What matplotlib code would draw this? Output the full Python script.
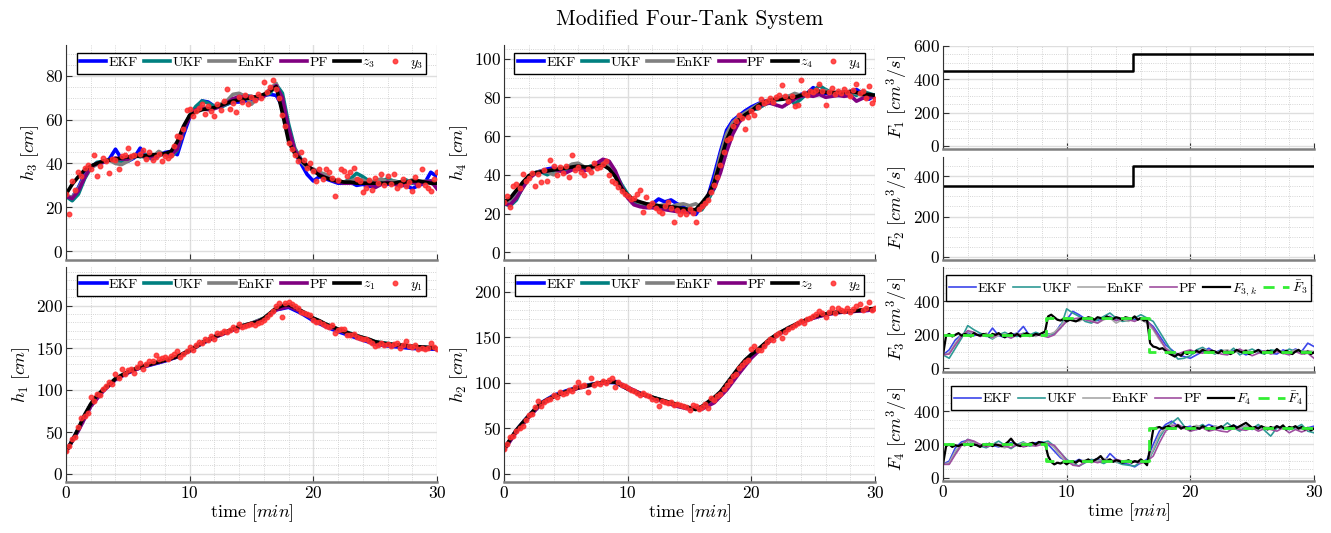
import numpy as np
import matplotlib
matplotlib.use("Agg")
import matplotlib.pyplot as plt
from matplotlib.ticker import MultipleLocator

plt.rcParams["font.family"] = "serif"
plt.rcParams["font.serif"] = ["cmr10"]
plt.rcParams["mathtext.fontset"] = "cm"
plt.rcParams["axes.formatter.use_mathtext"] = True

# time grids [min]
t_est = np.linspace(0, 30, 61)     # estimator / state samples
t_meas = np.linspace(0, 30, 121)   # measurement samples
t_coarse = np.linspace(0, 30, 31)

# ---- tank 3 ----
z3 = [26.0, 30.5, 34.0, 37.0, 38.8, 40.0, 41.0, 41.5, 42.0, 42.5,
      43.0, 43.0, 43.5, 43.5, 44.0, 44.0, 44.5, 45.5, 50.0, 57.0,
      62.0, 63.5, 64.5, 65.0, 65.5, 66.5, 67.5, 68.5, 69.0, 69.5,
      70.0, 70.5, 71.5, 73.0, 75.0, 63.0, 50.0, 44.5, 41.5, 39.0,
      37.0, 34.5, 33.5, 32.5, 32.0, 31.5, 31.5, 31.0, 31.0, 31.0,
      31.0, 31.0, 31.0, 31.0, 31.5, 31.5, 32.0, 32.0, 31.5, 31.0,
      31.0]
ekf3 = [25.0, 24.5, 29.0, 35.0, 38.5, 40.0, 40.5, 42.0, 46.5, 42.0,
        41.0, 42.5, 47.0, 43.0, 42.0, 43.5, 45.0, 45.5, 44.0, 53.0,
        61.0, 65.0, 68.5, 68.0, 66.0, 66.0, 67.0, 68.0, 68.0, 68.5,
        69.0, 70.0, 71.0, 71.5, 71.0, 66.0, 53.0, 45.0, 40.0, 35.0,
        32.0, 34.0, 33.0, 32.0, 31.0, 31.0, 31.5, 30.0, 30.5, 29.5,
        30.0, 31.0, 30.5, 31.0, 30.0, 30.0, 28.5, 30.0, 31.0, 36.0,
        34.0]
ukf3 = [25.0, 23.0, 26.0, 33.0, 38.0, 40.5, 41.0, 41.5, 41.0, 40.5,
        42.0, 44.0, 43.0, 44.0, 43.5, 44.0, 44.0, 43.0, 46.0, 55.0,
        62.0, 66.0, 68.5, 67.5, 66.0, 65.5, 67.0, 68.5, 70.0, 71.0,
        70.5, 70.0, 71.0, 72.0, 76.0, 72.0, 58.0, 47.0, 42.0, 39.0,
        36.5, 35.0, 34.0, 32.5, 32.0, 31.5, 33.0, 35.5, 34.0, 32.0,
        31.5, 32.0, 33.0, 32.0, 31.5, 32.5, 31.0, 32.0, 31.5, 32.0,
        31.0]
enkf3 = [25.5, 24.5, 28.5, 34.0, 38.0, 39.5, 41.0, 41.5, 40.0, 39.5,
         41.0, 43.0, 44.0, 42.0, 43.0, 45.5, 44.0, 43.5, 47.0, 56.0,
         61.5, 64.0, 66.0, 65.0, 65.0, 67.0, 68.5, 71.5, 72.0, 70.5,
         67.0, 70.0, 71.0, 74.0, 76.5, 68.0, 55.0, 46.5, 41.0, 38.0,
         37.5, 36.0, 35.0, 33.0, 32.0, 31.5, 32.0, 33.0, 32.5, 31.0,
         32.0, 33.0, 31.5, 32.0, 31.0, 31.5, 32.5, 31.5, 32.0, 31.0,
         30.0]
pf3 = [25.0, 24.0, 27.5, 33.5, 38.5, 40.0, 40.5, 41.5, 42.5, 42.0,
       42.0, 43.5, 44.0, 43.0, 43.0, 44.0, 44.5, 44.0, 46.5, 55.5,
       61.0, 64.5, 65.0, 64.5, 65.0, 66.0, 67.5, 69.5, 70.5, 70.0,
       70.5, 69.5, 70.5, 73.5, 75.5, 70.0, 56.0, 46.0, 41.5, 39.0,
       37.0, 35.0, 33.5, 32.5, 31.5, 31.0, 31.0, 31.5, 31.0, 30.5,
       29.0, 30.5, 31.5, 30.5, 30.0, 31.0, 31.5, 30.5, 31.5, 32.0,
       28.5]
y3 = [26, 17, 32, 28, 36, 34.5, 38, 39.5, 37.5, 44,
      34.5, 39, 42.5, 41, 35.5, 42, 41.5, 37.5, 43.5, 44,
      47, 43.5, 44, 40, 44.5, 46, 42, 45, 41.5, 43,
      44.5, 41, 43.5, 42.5, 44, 48, 52.5, 52, 55.5, 64.5,
      65, 61.5, 64, 65.5, 67, 62.5, 66, 64, 61.5, 67,
      64.5, 68.5, 74, 65, 67.5, 63.5, 70.5, 68, 71, 67,
      70.5, 69, 71.5, 70, 77, 72.5, 75, 78, 74, 70,
      62, 57, 49.5, 46.5, 44, 41, 45, 41.5, 38, 40,
      36.5, 32, 37.5, 33, 37.5, 36, 33.5, 25, 32.5, 37.5,
      36.5, 34.5, 36, 38, 33, 32, 27, 29, 32.5, 28,
      33.5, 31, 35, 30, 34.5, 30.5, 35, 29, 30, 33,
      29.5, 31.5, 27.5, 34, 30, 37.5, 30, 29, 27.5, 33,
      36]

# ---- tank 4 ----
z4 = [26.0, 28.0, 32.0, 36.0, 39.5, 41.0, 41.5, 42.0, 42.5, 43.0,
      43.5, 44.0, 44.5, 44.0, 44.0, 44.5, 45.0, 43.0, 39.0, 33.0,
      29.5, 27.0, 26.0, 25.0, 24.5, 24.0, 23.5, 23.5, 23.0, 22.5,
      22.0, 22.0, 25.5, 29.5, 36.0, 47.0, 58.0, 65.0, 68.5, 71.0,
      73.0, 75.5, 77.5, 78.5, 79.0, 79.0, 79.5, 80.0, 81.0, 82.0,
      83.0, 83.0, 82.5, 82.5, 82.5, 82.5, 83.0, 82.5, 81.5, 81.5,
      81.0]
ekf4 = [25.0, 25.5, 30.0, 35.5, 39.0, 41.0, 42.0, 43.0, 43.5, 42.5,
        43.0, 44.0, 43.5, 43.0, 44.0, 45.0, 45.5, 44.0, 39.5, 33.0,
        28.5, 26.0, 24.5, 24.0, 25.0, 27.5, 26.0, 27.0, 25.0, 23.5,
        21.0, 19.5, 24.0, 29.0, 40.0, 52.0, 63.0, 68.0, 70.5, 73.0,
        75.0, 76.5, 78.0, 78.0, 79.0, 80.0, 79.5, 80.5, 81.5, 82.0,
        85.0, 83.0, 82.0, 82.5, 81.0, 82.0, 83.0, 84.0, 82.0, 79.0,
        81.0]
ukf4 = [25.0, 24.0, 27.0, 33.5, 38.5, 41.0, 41.5, 40.0, 42.0, 43.5,
        42.0, 43.5, 44.5, 43.0, 44.5, 45.0, 46.0, 45.0, 41.0, 35.0,
        30.0, 26.5, 25.0, 24.0, 24.5, 24.0, 23.0, 23.0, 22.5, 22.5,
        22.0, 21.5, 22.0, 27.0, 33.0, 43.0, 55.0, 64.0, 68.0, 71.0,
        73.5, 74.0, 76.0, 77.5, 78.5, 79.0, 80.5, 76.5, 79.0, 82.0,
        83.0, 86.0, 84.0, 82.5, 81.0, 83.0, 82.5, 81.0, 83.0, 82.0,
        81.0]
enkf4 = [26.0, 25.5, 29.0, 34.5, 39.5, 41.0, 42.0, 41.5, 40.0, 42.5,
         43.5, 45.5, 46.0, 44.0, 43.0, 44.5, 46.0, 45.0, 40.0, 33.5,
         28.5, 27.0, 25.5, 25.0, 24.5, 24.0, 24.5, 23.5, 24.5, 25.0,
         24.0, 25.0, 23.0, 28.0, 37.0, 50.0, 61.0, 67.0, 70.0, 72.0,
         74.0, 76.0, 77.5, 78.5, 79.0, 80.0, 80.5, 82.0, 81.0, 81.5,
         82.5, 83.0, 83.5, 82.0, 81.5, 82.5, 83.0, 82.0, 81.0, 80.0,
         80.5]
pf4 = [25.0, 24.5, 28.0, 33.0, 38.0, 40.5, 41.5, 42.0, 43.0, 42.0,
       41.0, 42.5, 43.0, 42.0, 43.5, 46.0, 48.0, 47.0, 42.0, 34.0,
       28.0, 24.5, 23.5, 23.0, 23.0, 22.5, 22.0, 21.5, 21.0, 21.0,
       20.5, 21.5, 23.5, 29.5, 33.0, 41.0, 52.0, 61.0, 67.0, 70.5,
       73.0, 75.0, 76.5, 77.0, 76.0, 75.0, 77.0, 79.0, 80.5, 81.0,
       80.5, 81.5, 80.0, 80.5, 81.0, 80.5, 81.0, 78.0, 79.5, 80.0,
       80.5]
y4 = [26, 29, 23.5, 34, 35, 33, 40.5, 37, 38.5, 41,
      34, 40.5, 36.5, 42.5, 37, 47.5, 44.5, 40, 44, 41,
      44.5, 39, 50, 42.5, 44, 41.5, 40, 43, 41.5, 46,
      43.5, 44, 45.5, 47, 40, 37, 36, 33.5, 31.5, 30,
      29, 27.5, 28, 30, 32, 21, 28.5, 24, 25.5, 23,
      21.5, 20.5, 24, 26, 23, 15.5, 22, 20, 21.5, 20,
      22.5, 20.5, 15.7, 22.5, 24, 25.5, 27, 31, 34.5, 39,
      45, 51.5, 58, 59, 65, 67.5, 71, 69.5, 63.5, 70,
      73, 71, 75, 79, 77, 78, 79.5, 77.5, 80, 81,
      86.5, 80.5, 78, 80.5, 75.5, 76, 89, 82, 81, 83.5,
      82.5, 84, 87, 83, 76, 82.5, 85, 81.5, 83, 82,
      84.5, 82.5, 80.5, 84, 87, 82, 83, 79.5, 86, 77,
      79]

# ---- tank 1 ----
z1 = [26.5, 39, 54, 70, 83, 93, 100, 106, 113, 117,
      121, 124, 127, 129, 131, 133, 135, 137, 139.5, 143,
      147, 151, 156, 159.5, 163, 166, 169, 172, 175, 177,
      179, 180.5, 185, 191, 197, 200, 201, 198, 194, 190,
      185, 182, 178, 175, 172, 169, 166.5, 164, 162, 160,
      157, 155.5, 154.5, 153.5, 153, 152.5, 151.5, 151, 150.5, 150,
      149]
ekf1 = [26, 53, 82, 99, 112, 120, 126, 130, 134, 139,
        147, 155, 163, 168, 174, 178, 184, 195, 198, 191,
        182, 175, 169, 164, 159, 154, 152, 150.5, 149, 148.5,
        148]
ukf1 = [26, 52, 81, 99, 113, 121, 127, 131, 135, 139,
        146, 155, 162, 169, 175, 179, 185, 196, 200, 194,
        185, 178, 172, 167, 162, 157, 155, 153, 151.5, 150.5,
        149.5]
enkf1 = [26, 53, 82, 100, 113, 121, 127, 131, 135, 139.5,
         147, 156, 163, 169, 175, 179, 185, 197, 200, 193,
         184, 177, 171, 166, 161, 156, 154, 152.5, 151, 150,
         149]
pf1 = [26, 51, 80, 98, 112, 120, 126, 130.5, 134.5, 139,
       146, 155, 162, 168, 174, 178.5, 184, 195, 199, 193,
       184, 177, 171, 166, 161, 156, 154, 152, 151, 150,
       149]
y1 = [27, 33, 41, 44, 55, 66, 68, 72, 91, 86,
      95, 93, 101, 104, 109, 107, 118, 114, 124, 119,
      123, 124, 119.5, 127, 132, 125, 131, 134, 134, 141,
      136, 138, 139, 136, 140, 142, 146, 139, 142, 146,
      151, 147, 153, 157, 155, 160, 159, 164, 160, 167,
      167, 170, 168, 171, 174, 171, 178, 174, 176, 177,
      178, 177, 179, 181, 183, 186, 190, 194, 200, 203,
      186, 203, 204, 202, 199, 197, 192, 191, 190, 189,
      183, 180, 181, 178, 176, 175, 177, 167, 171, 172,
      172, 165, 165, 166, 163, 161, 160, 160, 158, 155,
      152, 153, 156, 153, 154, 152, 154, 155, 150, 153,
      158, 152, 151, 153, 148, 150, 148, 150, 155, 151,
      148]

# ---- tank 2 ----
z2 = [27, 38, 48, 56, 63.5, 71, 77.5, 81.5, 84.5, 87.5,
      90, 92.5, 94.5, 96, 97.5, 99, 100.5, 101, 100.5, 97,
      93, 90.5, 88, 86, 84, 82, 80, 78, 76, 74.5,
      72.5, 70.5, 74, 79, 84, 90, 99, 108, 117, 125,
      131, 136, 142, 148, 152.5, 156.5, 160, 163.5, 166.5, 169.5,
      172, 174, 175.5, 176.5, 177.5, 178, 178.5, 179, 180, 181,
      181.5]
ekf2 = [27, 48, 64, 78, 86, 91, 95, 98, 100.5, 100,
        93, 87.5, 83.5, 79, 74.5, 71.5, 73, 82, 97, 115,
        131, 141, 152, 160, 166, 171, 175, 177, 178, 179,
        180]
ukf2 = [27, 47, 63, 77, 85, 90, 94.5, 97.5, 100, 101,
        94, 88.5, 84, 80, 76, 72.5, 72.5, 80, 95, 113,
        129, 141, 151, 160, 166.5, 171.5, 175.5, 177.5, 178.5, 179.5,
        180.5]
enkf2 = [27, 48, 64, 77.5, 85, 90, 94.5, 97.5, 100.5, 101,
         94, 88, 84, 79.5, 75.5, 72, 73, 81, 96, 114,
         130, 142, 152, 160.5, 166.5, 172, 175.5, 177.5, 178.5, 179.5,
         181]
pf2 = [26, 46, 62, 76.5, 84.5, 89.5, 94, 97, 99.5, 101.5,
       95, 88.5, 83.5, 78.5, 74, 71, 71, 78, 92, 110,
       127, 140, 151, 159.5, 166, 171, 174.5, 177, 178, 179,
       180]
y2 = [27, 33, 40, 42, 47, 50, 52, 59, 64, 66,
      73, 80, 74, 79, 81, 82, 86, 84, 90, 88,
      89, 92, 91, 95, 101, 96, 97, 90, 105, 98,
      100, 99, 102, 100, 103, 105, 95, 101, 98, 96,
      94, 92, 91, 89, 86, 89, 87, 85, 82, 81,
      74, 80, 79, 78, 79, 76, 77, 75, 74, 73,
      69.5, 75, 74, 71, 73, 77, 72, 83, 81, 85,
      88, 93, 97, 102, 107, 110, 116, 119, 123, 125,
      137, 140, 136, 136, 140, 145, 148, 147, 152, 154,
      149, 156, 159, 161, 163, 165, 168, 166, 170, 171,
      173, 175, 179, 177, 172, 178, 182, 176, 182, 180,
      179, 182, 178, 181, 184, 186, 180, 182, 189, 180,
      182]

# ---- pump flows F1, F2 ----
F12_t = [0, 15.4, 30]
F1 = [450, 550, 550]
F2 = [350, 450, 450]

# ---- disturbance flows F3, F4 ----
Fbar_t = [0, 8.33, 16.67, 30]
F3bar = [200, 300, 100, 100]
F4bar = [200, 100, 300, 300]
F3k = [80, 195, 205, 190, 200, 210, 195, 205, 200, 190,
       210, 200, 195, 205, 200, 190, 205, 200, 210, 195,
       185, 200, 210, 195, 205, 190, 200, 210, 200, 195,
       205, 200, 210, 220, 310, 320, 305, 290, 285, 295,
       280, 290, 285, 280, 290, 300, 295, 305, 300, 290,
       305, 300, 295, 310, 300, 295, 305, 300, 290, 305,
       300, 295, 310, 290, 300, 285, 290, 150, 130, 125,
       115, 120, 105, 90, 80, 70, 85, 75, 95, 85,
       100, 90, 105, 95, 110, 100, 95, 105, 100, 90,
       105, 95, 100, 85, 95, 110, 100, 95, 105, 85,
       95, 100, 110, 95, 90, 105, 100, 95, 115, 100,
       90, 105, 95, 85, 100, 110, 95, 90, 100, 85,
       95]
F4k = [80, 190, 200, 185, 195, 190, 200, 195, 205, 190,
       200, 195, 185, 200, 195, 205, 190, 200, 195, 190,
       200, 215, 235, 210, 195, 190, 200, 195, 205, 210,
       200, 215, 210, 205, 130, 95, 80, 90, 85, 95,
       80, 95, 100, 90, 105, 95, 100, 110, 95, 105,
       115, 130, 105, 100, 110, 95, 105, 100, 90, 95,
       105, 90, 100, 95, 110, 95, 75, 180, 290, 300,
       305, 295, 305, 310, 295, 300, 315, 295, 305, 300,
       290, 305, 300, 295, 310, 300, 290, 305, 295, 300,
       310, 295, 300, 305, 315, 300, 310, 320, 330, 315,
       300, 305, 295, 310, 300, 290, 305, 295, 310, 300,
       315, 290, 305, 300, 310, 295, 305, 290, 300, 285,
       295]
ekf3F = [80, 110, 170, 200, 215, 195, 205, 190, 240, 195,
         185, 200, 210, 250, 195, 210, 200, 205, 205, 260,
         290, 340, 320, 295, 290, 285, 300, 310, 285, 300,
         295, 290, 300, 280, 250, 195, 140, 110, 80, 70,
         60, 80, 100, 120, 95, 110, 90, 105, 100, 80,
         95, 110, 100, 90, 85, 110, 95, 115, 100, 150,
         130]
ukf3F = [80, 60, 120, 180, 255, 230, 210, 195, 175, 200,
         215, 195, 190, 210, 200, 215, 200, 195, 210, 240,
         355, 330, 310, 280, 270, 290, 310, 330, 300, 280,
         285, 300, 320, 300, 280, 220, 160, 100, 55, 60,
         75, 110, 125, 100, 85, 110, 90, 120, 80, 100,
         115, 95, 85, 110, 105, 90, 115, 100, 105, 95,
         90]
enkf3F = [80, 90, 150, 200, 220, 205, 195, 210, 180, 195,
          205, 190, 210, 195, 205, 190, 210, 200, 215, 250,
          300, 290, 280, 300, 285, 270, 290, 300, 270, 290,
          280, 305, 290, 270, 230, 170, 120, 95, 80, 90,
          100, 95, 115, 100, 90, 105, 110, 95, 100, 110,
          95, 105, 100, 90, 105, 100, 95, 110, 100, 105,
          100]
pf3F = [80, 85, 140, 190, 225, 215, 190, 200, 185, 205,
        195, 180, 200, 205, 190, 200, 195, 185, 200, 240,
        280, 295, 300, 290, 280, 270, 295, 305, 285, 300,
        290, 280, 300, 285, 240, 180, 120, 90, 85, 100,
        110, 95, 90, 110, 100, 85, 80, 100, 115, 95,
        75, 90, 105, 85, 100, 90, 80, 100, 85, 90,
        60]
ekf4F = [80, 100, 180, 215, 225, 200, 190, 205, 195, 185,
         200, 210, 195, 205, 200, 210, 215, 200, 160, 120,
         100, 90, 110, 95, 100, 115, 95, 145, 110, 90,
         80, 65, 90, 110, 200, 280, 320, 340, 310, 300,
         310, 290, 300, 320, 305, 295, 300, 315, 300, 310,
         290, 305, 300, 295, 310, 300, 290, 305, 295, 300,
         310]
ukf4F = [80, 85, 150, 200, 230, 215, 190, 180, 200, 220,
         195, 175, 200, 215, 190, 200, 210, 220, 190, 150,
         110, 85, 70, 90, 110, 100, 85, 105, 95, 80,
         75, 70, 95, 90, 160, 240, 300, 330, 360, 310,
         280, 300, 320, 290, 310, 300, 330, 300, 280, 310,
         295, 320, 285, 250, 300, 310, 290, 300, 320, 280,
         270]
enkf4F = [80, 90, 160, 205, 220, 210, 200, 195, 205, 190,
          180, 200, 195, 210, 200, 195, 205, 210, 180, 130,
          95, 80, 100, 105, 90, 100, 115, 110, 95, 100,
          105, 95, 100, 95, 170, 260, 300, 320, 305, 295,
          300, 315, 300, 295, 310, 300, 305, 295, 300, 310,
          300, 295, 305, 300, 310, 295, 300, 305, 290, 300,
          295]
pf4F = [80, 80, 140, 195, 230, 220, 200, 185, 195, 200,
        190, 180, 200, 185, 195, 190, 200, 205, 195, 150,
        105, 75, 70, 95, 100, 90, 100, 95, 110, 100,
        90, 95, 85, 100, 130, 210, 280, 310, 320, 300,
        280, 290, 300, 280, 290, 280, 275, 300, 290, 285,
        300, 280, 295, 290, 280, 300, 270, 290, 275, 290,
        300]

est_names = ["EKF", "UKF", "EnKF", "PF"]
est_colors = ["#0000ff", "#008080", "#808080", "#800080"]
est_colors_light = ["#3c46ea", "#2f9a95", "#a8a8a8", "#a04fa0"]


def style_axes(ax, ylim, yticks, yminor, xlabels):
  ax.set_xlim(0, 30)
  ax.set_ylim(*ylim)
  ax.set_yticks(yticks)
  ax.set_xticks([0, 10, 20, 30])
  ax.xaxis.set_minor_locator(MultipleLocator(2))
  ax.yaxis.set_minor_locator(MultipleLocator(yminor))
  ax.grid(which="major", color="#dedede", lw=1.0)
  ax.grid(which="minor", color="#c8c8c8", lw=0.6, ls=":")
  ax.set_axisbelow(True)
  ax.tick_params(which="major", direction="in", length=4, labelsize=12.5,
                 color="#333333", pad=2)
  ax.tick_params(which="minor", length=0)
  for s in ["top", "right"]:
    ax.spines[s].set_visible(False)
  ax.spines["left"].set_color("#333333")
  ax.spines["left"].set_linewidth(0.8)
  ax.spines["bottom"].set_color("#808080")
  ax.spines["bottom"].set_linewidth(1.8)
  if xlabels:
    ax.set_xlabel(r"time $[min]$", fontsize=13, labelpad=1)
  else:
    ax.set_xticklabels([])


def legend_box(ax, top):
  ax.legend(loc="upper center", bbox_to_anchor=(0.5, top), ncol=6,
            fontsize=10, frameon=True, fancybox=False, framealpha=1,
            edgecolor="black", borderaxespad=0, borderpad=0.25,
            handlelength=1.9, handletextpad=0.15, columnspacing=0.45)


def plot_tank(ax, t_e, ests, z, y, n):
  for e, name, c in zip(ests, est_names, est_colors):
    ax.plot(t_e, e, color=c, lw=2.6, label=name)
  ax.plot(t_est, z, color="black", lw=2.6, label=r"$z_%d$" % n)
  ax.plot(t_meas, y, ".", color="#ff3030", ms=6.5, alpha=0.85,
          label=r"$y_%d$" % n)
  legend_box(ax, 0.965)
  ax.set_ylabel(r"$h_%d\ [cm]$" % n, fontsize=13, labelpad=3)


def plot_flow(ax, ests, Fk, Fbar, n, klabel):
  for e, name, c in zip(ests, est_names, est_colors_light):
    ax.plot(t_est, e, color=c, lw=1.2, label=name)
  ax.plot(t_meas, Fk, color="black", lw=1.6, label=klabel)
  ax.plot(Fbar_t, Fbar, color="#33ee33", lw=2.0, ls=(0, (4, 3)),
          drawstyle="steps-post", label=r"$\bar{F}_%d$" % n)
  legend_box(ax, 0.925)
  ax.set_ylabel(r"$F_%d\ [cm^3/s]$" % n, fontsize=13, labelpad=2)


fig = plt.figure(figsize=(13.31, 5.33), dpi=100)
fig.text(0.518, 0.963, "Modified Four-Tank System", ha="center",
         va="center", fontsize=15.5)

cl = [0.0496, 0.3787, 0.7085]
cw = 0.2787

ax3 = fig.add_axes([cl[0], 0.5122, cw, 0.4034])
plot_tank(ax3, t_est, [ekf3, ukf3, enkf3, pf3], z3, y3, 3)
style_axes(ax3, (-4, 94), [0, 20, 40, 60, 80], 5, False)

ax4 = fig.add_axes([cl[1], 0.5122, cw, 0.4034])
plot_tank(ax4, t_est, [ekf4, ukf4, enkf4, pf4], z4, y4, 4)
style_axes(ax4, (-4, 107), [0, 20, 40, 60, 80, 100], 5, False)

ax1 = fig.add_axes([cl[0], 0.0957, cw, 0.4034])
plot_tank(ax1, t_coarse, [ekf1, ukf1, enkf1, pf1], z1, y1, 1)
style_axes(ax1, (-10, 246), [0, 50, 100, 150, 200], 10, True)

ax2 = fig.add_axes([cl[1], 0.0957, cw, 0.4034])
plot_tank(ax2, t_coarse, [ekf2, ukf2, enkf2, pf2], z2, y2, 2)
style_axes(ax2, (-9, 227), [0, 50, 100, 150, 200], 10, True)

axF1 = fig.add_axes([cl[2], 0.7205, cw, 0.1932])
axF1.plot(F12_t, F1, color="black", lw=1.8, drawstyle="steps-post")
axF1.set_ylabel(r"$F_1\ [cm^3/s]$", fontsize=13, labelpad=2)
style_axes(axF1, (-18, 600), [0, 200, 400, 600], 50, False)

axF2 = fig.add_axes([cl[2], 0.5122, cw, 0.1932])
axF2.plot(F12_t, F2, color="black", lw=1.8, drawstyle="steps-post")
axF2.set_ylabel(r"$F_2\ [cm^3/s]$", fontsize=13, labelpad=2)
style_axes(axF2, (-15, 494), [0, 200, 400], 50, False)

axF3 = fig.add_axes([cl[2], 0.3021, cw, 0.197])
plot_flow(axF3, [ekf3F, ukf3F, enkf3F, pf3F], F3k, F3bar, 3, r"$F_{3,k}$")
style_axes(axF3, (-22, 605), [0, 200, 400], 50, False)

axF4 = fig.add_axes([cl[2], 0.0976, cw, 0.1932])
plot_flow(axF4, [ekf4F, ukf4F, enkf4F, pf4F], F4k, F4bar, 4, r"$F_4$")
style_axes(axF4, (-20, 600), [0, 200, 400], 50, True)

fig.savefig("out.png", dpi=100)
